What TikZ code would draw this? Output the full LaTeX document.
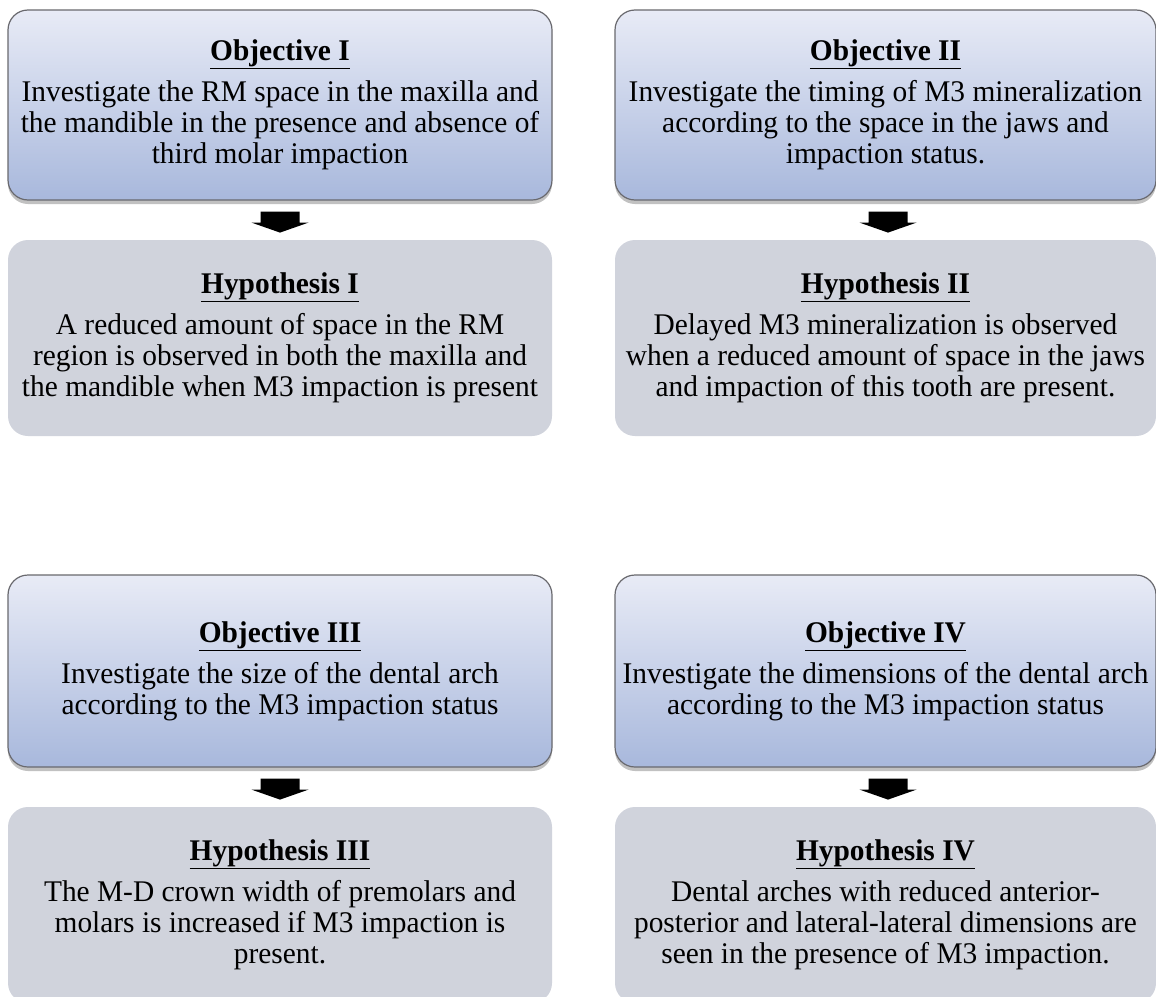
\documentclass[tikz,border=0pt]{standalone}
\usepackage{fontspec}
\setmainfont[FakeStretch=0.98]{Liberation Serif}
\usetikzlibrary{calc,shadows}
\definecolor{objtop}{RGB}{232,235,246}
\definecolor{objbot}{RGB}{168,184,220}
\definecolor{objline}{RGB}{105,105,110}
\definecolor{hypfill}{RGB}{208,211,220}
\tikzset{
  objbox/.style={rectangle, rounded corners=20pt, draw=objline, line width=1.2pt,
    top color=objtop, bottom color=objbot, minimum height=190pt,
    align=center, inner sep=0pt, font=\fontsize{30}{31}\selectfont,
    drop shadow={shadow xshift=0pt, shadow yshift=-4pt, fill=black!60, opacity=.4}},
  hypbox/.style={rectangle, rounded corners=20pt, fill=hypfill, minimum height=196pt,
    align=center, inner sep=0pt, font=\fontsize{30}{31}\selectfont},
  leftcol/.style={minimum width=544pt},
  rightcol/.style={minimum width=541pt},
  blk/.style={fill=black}
}
\newcommand\blkarrow[1]{\fill[blk] (#1) ++(-19.5,0) -- ++(39,0) -- ++(0,-11) -- ++(9,0) -- ++(-28.5,-10) -- ++(-28.5,10) -- ++(9,0) -- cycle;}
\newcommand\ttl[1]{\textbf{\underline{#1}}}
\begin{document}
\begin{tikzpicture}[x=1pt,y=1pt]
\path[use as bounding box] (0,0) rectangle (1156,-996);
\clip (0,0) rectangle (1156,-996);
\fill[white] (0,0) rectangle (1156,-996);

\node[objbox,leftcol] (o1) at (280,-105) {\ttl{Objective I}\\[10pt]
Investigate the RM space in the maxilla and\\the mandible in the presence and absence of\\third molar impaction};
\node[hypbox,leftcol] (h1) at (280,-338) {\ttl{Hypothesis I}\\[10pt]
A reduced amount of space in the RM\\region is observed in both the maxilla and\\the mandible when M3 impaction is present};

\node[objbox,rightcol] (o2) at (885.5,-105) {\ttl{Objective II}\\[10pt]
Investigate the timing of M3 mineralization\\according to the space in the jaws and\\impaction status.};
\node[hypbox,rightcol] (h2) at (885.5,-338) {\ttl{Hypothesis II}\\[10pt]
Delayed M3 mineralization is observed\\when a reduced amount of space in the jaws\\and impaction of this tooth are present.};

\node[objbox,leftcol,minimum height=192pt] (o3) at (280,-671) {\ttl{Objective III}\\[10pt]
Investigate the size of the dental arch\\according to the M3 impaction status};
\node[hypbox,leftcol] (h3) at (280,-905) {\ttl{Hypothesis III}\\[10pt]
The M-D crown width of premolars and\\molars is increased if M3 impaction is\\present.};

\node[objbox,rightcol,minimum height=192pt] (o4) at (885.5,-671) {\ttl{Objective IV}\\[10pt]
Investigate the dimensions of the dental arch\\according to the M3 impaction status};
\node[hypbox,rightcol] (h4) at (885.5,-905) {\ttl{Hypothesis IV}\\[10pt]
Dental arches with reduced anterior-\\posterior and lateral-lateral dimensions are\\seen in the presence of M3 impaction.};

\coordinate (a1) at ($(o1.south)+(0,-11)$);
\coordinate (a2) at ($(o2.south)+(2.5,-11)$);
\coordinate (a3) at ($(o3.south)+(0,-11)$);
\coordinate (a4) at ($(o4.south)+(2.5,-11)$);
\blkarrow{a1}
\blkarrow{a2}
\blkarrow{a3}
\blkarrow{a4}
\end{tikzpicture}
\end{document}
